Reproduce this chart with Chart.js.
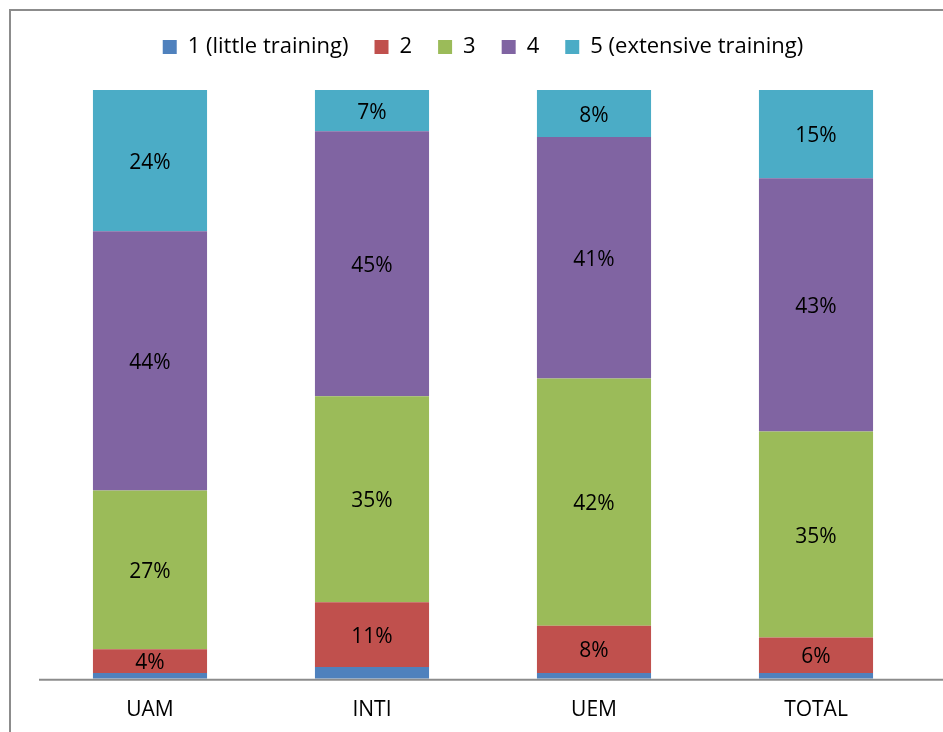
<!DOCTYPE html>
<html>
<head>
<meta charset="utf-8">
<script src="https://cdn.jsdelivr.net/npm/chart.js@4.4.0/dist/chart.umd.min.js"></script>
<style>
html,body{margin:0;padding:0;background:#fff;overflow:hidden}
#wrap{position:relative;width:943px;height:732px}
#frame{position:absolute;left:9px;top:9px;width:1000px;height:800px;border-top:2px solid #8c8c8c;border-left:2px solid #8c8c8c}
canvas{position:absolute;left:0;top:0}
</style>
</head>
<body>
<div id="wrap">
<div id="frame"></div>
<canvas id="myChart" width="943" height="732"></canvas>
</div>
<script>
var schools=["UAM","INTI","UEM","TOTAL"];
var names=["1 (little training)","2","3","4","5 (extensive training)"];
var colors=["#4F81BD","#C0504D","#9BBB59","#8064A2","#4BACC6"];
var level1=[1,2,1,1];
var level2=[4,11,8,6];
var level3=[27,35,42,35];
var level4=[44,45,41,43];
var level5=[24,7,8,15];
var series=[level1,level2,level3,level4,level5];

var fontName="'Open Sans', 'Liberation Sans', sans-serif";

var datasets=[];
for(var i=0;i<series.length;i++){
	datasets.push({
		label:names[i],
		data:series[i],
		backgroundColor:colors[i],
		borderWidth:0,
		showValue:i>0
	});
}

// push the plot down a little below the legend
var legendGap={
	id:"legendGap",
	beforeInit:function(chart){
		var fit=chart.legend.fit;
		chart.legend.fit=function(){
			fit.bind(chart.legend)();
			this.height+=22;
		};
	}
};

var valueLabels={
	id:"valueLabels",
	afterDatasetsDraw:function(chart){
		var ctx=chart.ctx;
		ctx.save();
		ctx.font="21px "+fontName;
		ctx.fillStyle="#000";
		ctx.textAlign="center";
		ctx.textBaseline="middle";
		chart.data.datasets.forEach(function(ds,di){
			if(!ds.showValue) return;
			chart.getDatasetMeta(di).data.forEach(function(bar,j){
				var mid=(bar.y+bar.base)/2+2;
				ctx.fillText(ds.data[j]+"%",bar.x,mid);
			});
		});
		ctx.restore();
	}
};

var axisLine={
	id:"axisLine",
	afterDraw:function(chart){
		var ctx=chart.ctx, a=chart.chartArea;
		ctx.save();
		ctx.strokeStyle="#8c8c8c";
		ctx.lineWidth=2;
		ctx.beginPath();
		ctx.moveTo(a.left,a.bottom+1);
		ctx.lineTo(943,a.bottom+1);
		ctx.stroke();
		ctx.restore();
	}
};

var chart=new Chart(document.getElementById("myChart").getContext("2d"),{
	type:"bar",
	data:{labels:schools,datasets:datasets},
	plugins:[legendGap,valueLabels,axisLine],
	options:{
		responsive:false,
		animation:false,
		layout:{padding:{left:39,right:16,top:10,bottom:-10}},
		datasets:{bar:{barPercentage:1,categoryPercentage:0.514}},
		plugins:{
			tooltip:{enabled:false},
			legend:{
				position:"top",
				labels:{
					boxWidth:14,
					boxHeight:14,
					color:"#000",
					padding:26,
					font:{family:fontName,size:22}
				}
			}
		},
		scales:{
			x:{
				stacked:true,
				grid:{display:false,drawTicks:false},
				border:{display:false},
				ticks:{color:"#000",padding:19,font:{family:fontName,size:21}}
			},
			y:{
				stacked:true,
				min:0,
				max:100,
				display:false
			}
		}
	}
});
</script>
</body>
</html>
